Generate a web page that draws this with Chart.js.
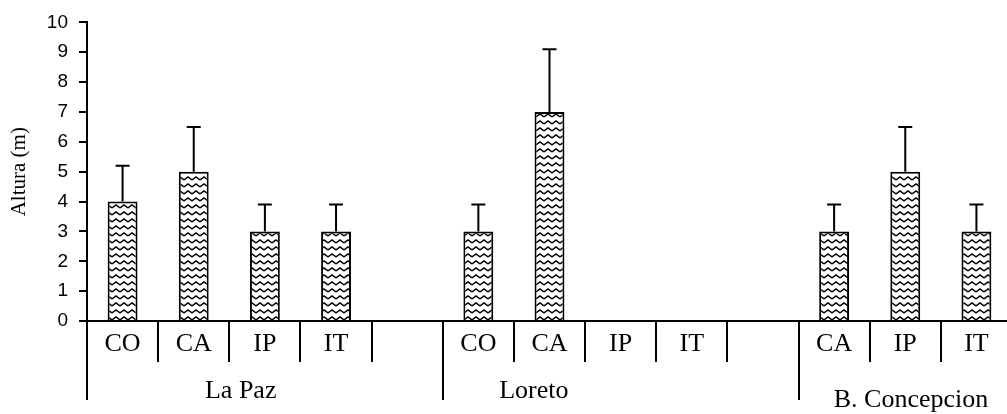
<!DOCTYPE html>
<html>
<head>
<meta charset="utf-8">
<title>Altura</title>
<script src="https://cdn.jsdelivr.net/npm/chart.js@4.4.1/dist/chart.umd.min.js"></script>
<style>
  body { margin: 0; background: #fff; overflow: hidden; }
  canvas { display: block; }
</style>
</head>
<body>
<canvas id="alturaChart" width="1012" height="414"></canvas>
<script>
// data
const categories = ['CO', 'CA', 'IP', 'IT', '', 'CO', 'CA', 'IP', 'IT', '', 'CA', 'IP', 'IT'];
const alturaMedia = [4, 5, 3, 3, null, 3, 7, null, null, null, 3, 5, 3];
// upper end of each error bar
const alturaError = [5.2, 6.5, 3.9, 3.9, null, 3.9, 9.1, null, null, null, 3.9, 6.5, 3.9];
const groups = ['La Paz', 'Loreto', 'B. Concepcion'];
const groupStart = [0, 5, 10];

const serif = "'Liberation Serif', 'Times New Roman', serif";
const sans = "'Liberation Sans', Arial, sans-serif";

// zigzag fill like the original
function zigzagPattern() {
    const c = document.createElement('canvas');
    c.width = 8;
    c.height = 7;
    const g = c.getContext('2d');
    g.fillStyle = '#fff';
    g.fillRect(0, 0, 8, 7);
    g.strokeStyle = '#000';
    g.lineWidth = 1.5;
    g.beginPath();
    g.moveTo(0, 5);
    g.lineTo(4, 2);
    g.lineTo(8, 5);
    g.stroke();
    return g.createPattern(c, 'repeat');
}

/*===== ERROR BARS =====*/
const errorBars = {
    id: 'errorBars',
    afterDatasetsDraw(chart) {
        const ctx = chart.ctx;
        const y = chart.scales.y;
        const meta = chart.getDatasetMeta(0);
        ctx.save();
        ctx.strokeStyle = '#000';
        ctx.lineWidth = 2;
        alturaError.forEach((e, i) => {
            if (e == null || alturaMedia[i] == null) return;
            const x = meta.data[i].x;
            const top = y.getPixelForValue(e);
            const base = y.getPixelForValue(alturaMedia[i]);
            ctx.beginPath();
            ctx.moveTo(x, base);
            ctx.lineTo(x, top);
            ctx.moveTo(x - 7, top);
            ctx.lineTo(x + 7, top);
            ctx.stroke();
        });
        ctx.restore();
    }
};

/*===== GROUPED X AXIS =====*/
const groupAxis = {
    id: 'groupAxis',
    afterDraw(chart, args, opts) {
        const ctx = chart.ctx;
        const x = chart.scales.x;
        const bottom = chart.chartArea.bottom;
        ctx.save();
        ctx.strokeStyle = '#000';
        ctx.lineWidth = 2;
        for (let i = 0; i < categories.length; i++) {
            const px = Math.round(x.getPixelForValue(i - 0.5));
            const long = groupStart.includes(i);
            ctx.beginPath();
            ctx.moveTo(px, bottom);
            ctx.lineTo(px, bottom + (long ? opts.longLen : opts.shortLen));
            ctx.stroke();
        }
        ctx.fillStyle = '#000';
        ctx.font = '26px ' + serif;
        ctx.textAlign = 'center';
        ctx.textBaseline = 'middle';
        groups.forEach((g, k) => {
            ctx.fillText(g, x.getPixelForValue(opts.labelAt[k]), bottom + opts.labelDy[k]);
        });
        ctx.restore();
    }
};

const ctx = document.getElementById('alturaChart').getContext('2d');
const alturaChart = new Chart(ctx, {
    type: 'bar',
    data: {
        labels: categories,
        datasets: [{
            label: 'Altura',
            data: alturaMedia,
            backgroundColor: zigzagPattern(),
            borderColor: '#000',
            borderWidth: 2,
            barPercentage: 0.42,
            categoryPercentage: 1
        }]
    },
    options: {
        responsive: false,
        animation: false,
        layout: { padding: { top: 21, right: 0, left: 0, bottom: 0 } },
        plugins: {
            legend: { display: false },
            tooltip: { enabled: false },
            groupAxis: {
                shortLen: 41,
                longLen: 79,
                labelAt: [1.66, 5.78, 11.08],
                labelDy: [70, 70, 79]
            }
        },
        scales: {
            x: {
                grid: { display: false, drawTicks: false },
                border: { color: '#000', width: 2 },
                ticks: {
                    color: '#000',
                    padding: 8,
                    maxRotation: 0,
                    autoSkip: false,
                    font: { family: serif, size: 26 }
                },
                afterFit: s => { s.height = 93; }
            },
            y: {
                min: 0,
                max: 10,
                grid: {
                    drawOnChartArea: false,
                    tickLength: 8,
                    color: '#000',
                    lineWidth: 2
                },
                border: { color: '#000', width: 2 },
                ticks: {
                    stepSize: 1,
                    color: '#000',
                    padding: 11,
                    font: { family: sans, size: 19 }
                },
                title: {
                    display: true,
                    text: 'Altura (m)',
                    color: '#000',
                    padding: { top: 7, bottom: 4 },
                    font: { family: serif, size: 21 }
                },
                afterFit: s => { s.width = 87; }
            }
        }
    },
    plugins: [errorBars, groupAxis]
});
</script>
</body>
</html>
